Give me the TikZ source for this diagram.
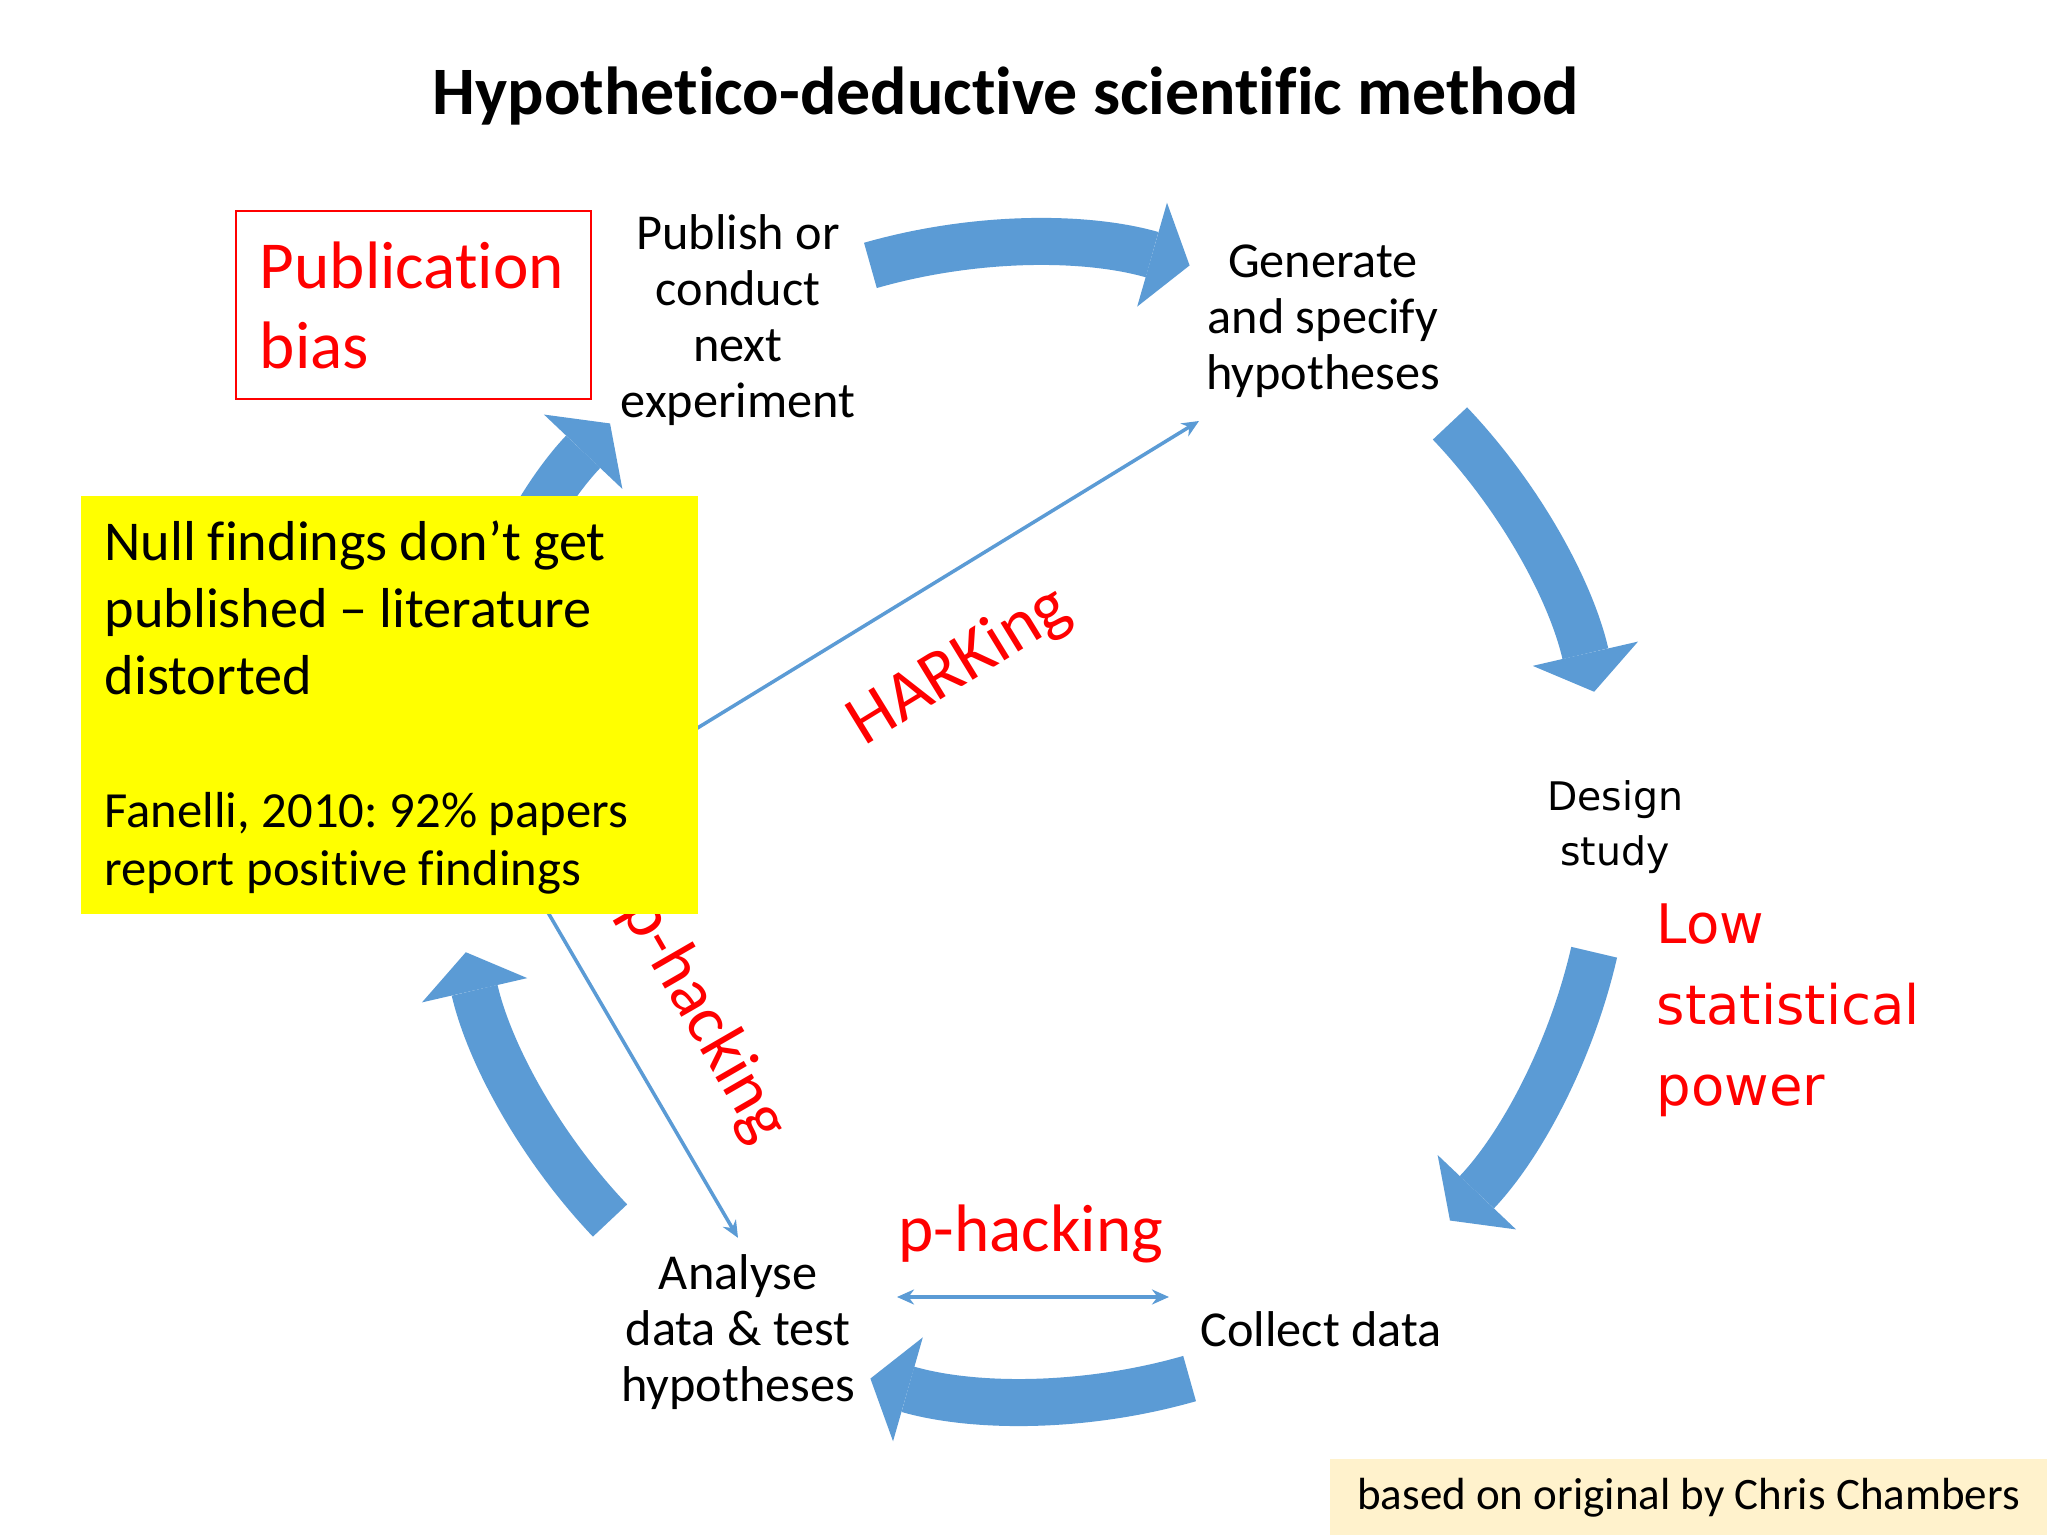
\documentclass[tikz,border=0pt]{standalone}
\usepackage{fontspec}
\setmainfont{Carlito}[Ligatures={TeX,NoCommon}]
\newfontfamily\dejavu{DejaVu Sans}
\usetikzlibrary{arrows.meta,positioning}

\definecolor{arrowblue}{RGB}{91,155,213}
\definecolor{noteyellow}{RGB}{255,255,0}
\definecolor{creditbg}{RGB}{255,242,204}

\begin{document}
\frenchspacing
\begin{tikzpicture}[x=0.01cm,y=0.01cm,>={Stealth[length=0.17cm,width=0.15cm]},
        stage/.style={align=center,inner sep=0pt,font=\fontsize{14.3}{15.9}\selectfont},
        redlabel/.style={text=red,inner sep=0pt},
        bigarrow/.style={draw=arrowblue,line width=0.47cm,
            -{Triangle[length=0.39cm,width=1.08cm,line width=0pt]}},
        thinarrow/.style={draw=arrowblue,line width=1pt}]

    \fill[white] (0,0) rectangle (2048,1536);
    \useasboundingbox (0,0) rectangle (2048,1536);

    \node[font=\bfseries\fontsize{19.3}{23}\selectfont,anchor=base] (title) at (1006,1421)
        {Hypothetico-deductive scientific method};

    \node[stage] (publish) at (738,1216) {Publish or\\ conduct\\ next\\ experiment};
    \node[stage] (generate) at (1323,1215) {Generate\\ and specify\\ hypotheses};
    \node[stage,font=\dejavu\fontsize{11.2}{15.6}\selectfont] (design) at (1615,709) {Design\\ study};
    \node[stage,anchor=base] (collect) at (1321,189) {Collect data};
    \node[stage] (analyse) at (738,204) {Analyse\\ data \& test\\ hypotheses};

    % the cycle
    \coordinate (cyc) at (1030,714);
    \begin{scope}[shift={(cyc)}]
        \draw[bigarrow] (106:579) arc[start angle=106,end angle=74,radius=579];
        \draw[bigarrow] (43.5:579) arc[start angle=43.5,end angle=13,radius=579];
        \draw[bigarrow] (-13:579) arc[start angle=-13,end angle=-43.5,radius=579];
        \draw[bigarrow] (-74:579) arc[start angle=-74,end angle=-106,radius=579];
        \draw[bigarrow] (-136.5:579) arc[start angle=-136.5,end angle=-167,radius=579];
        \draw[bigarrow] (167:579) arc[start angle=167,end angle=136.5,radius=579];
    \end{scope}

    \coordinate (fork) at (508,692);
    \coordinate (harkend) at (1199,1115);
    \coordinate (hackl) at (897,239);
    \coordinate (hackr) at (1169,239);
    \draw[thinarrow,->] (fork) -- (harkend);
    \draw[thinarrow,->] (fork) -- ([yshift=0.16cm]analyse.north);
    \draw[thinarrow,<->] (hackl) -- (hackr);

    \node[redlabel,rotate=31.5,font=\fontsize{20}{24}\selectfont] (harking) at (960,869) {HARKing};
    \node[redlabel,rotate=-60,font=\fontsize{19.5}{23}\selectfont] (phackdiag) at (704,516) {p-hacking};
    \node[redlabel,anchor=base,font=\fontsize{19.1}{23}\selectfont] (phack) at (1031,284) {p-hacking};

    \node[fill=noteyellow,minimum width=6.175cm,minimum height=4.18cm,text width=5.695cm,
        inner xsep=0.24cm,inner ysep=0pt,align=left] (note) at (389.5,831)
        {\fontsize{16}{19}\selectfont\rule{0pt}{0.45cm}Null findings don’t get\\ published -- literature\\ distorted\par
         \vspace{21.5pt}\fontsize{14.4}{16.5}\selectfont Fanelli, 2010: 92\% papers\\
         report positive findings\par};

    \node[draw=red,line width=0.6pt,text=red,minimum width=3.55cm,minimum height=1.875cm,
        text width=3.07cm,inner xsep=0.24cm,inner ysep=0pt,align=left,
        font=\fontsize{19.1}{22.8}\selectfont] (pubbias) at (413.5,1231)
        {\rule{0pt}{0.47cm}Publication\\ bias\par};

    \node[redlabel,anchor=west,align=left,font=\dejavu\fontsize{15.5}{23}\selectfont] (lowpower)
        at (1656,526) {Low\\ statistical\\ power};

    \node[fill=creditbg,anchor=south east,minimum width=7.17cm,minimum height=0.76cm,
        inner xsep=0.22cm,font=\fontsize{12.8}{15}\selectfont]
        (credit) at (2048,0) {based on original by Chris Chambers};
\end{tikzpicture}
\end{document}
